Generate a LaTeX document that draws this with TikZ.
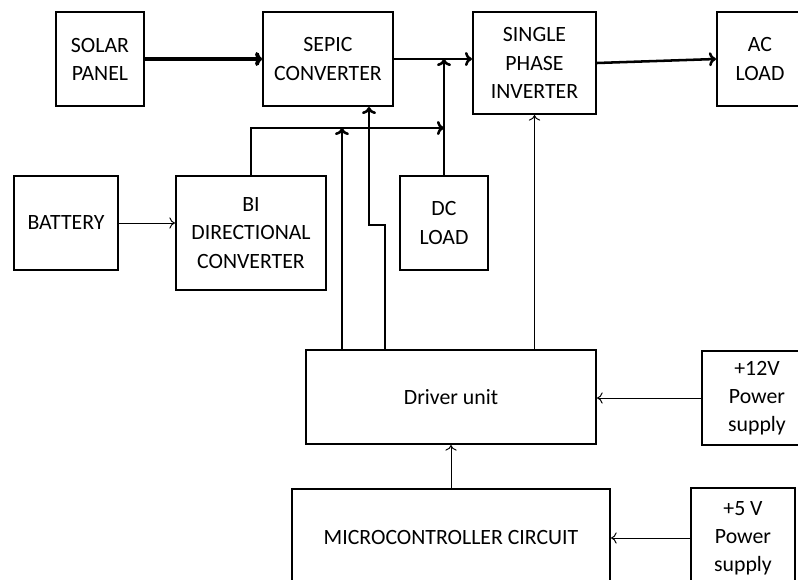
\documentclass[tikz,border=0pt]{standalone}
\usepackage{fontspec}
\setmainfont{Carlito}
\usetikzlibrary{arrows.meta}
\tikzset{
  blk/.style={draw,line width=1.4pt,align=center,inner sep=0pt},
  bus/.style={line width=1.8pt,-{To[length=5pt,width=10pt]}},
  ctl/.style={line width=0.7pt,-{To[length=4pt,width=8pt]}}
}
\begin{document}
\begin{tikzpicture}[x=0.025cm,y=-0.025cm,every node/.style={font=\fontsize{15.5}{20}\selectfont}]
\useasboundingbox (0,0) rectangle (798,580);
\clip (0,0) rectangle (798,580);
\node[blk,minimum width=2.2cm,minimum height=2.35cm] (solar) at (100,59) {SOLAR\\PANEL};
\node[blk,minimum width=3.25cm,minimum height=2.35cm] (sepic) at (328,59) {SEPIC\\CONVERTER};
\node[blk,minimum width=3.075cm,minimum height=2.55cm] (inv) at (534.5,63) {SINGLE\\PHASE\\INVERTER};
\node[blk,minimum width=2.15cm,minimum height=2.35cm] (acload) at (760,59) {AC\\LOAD};
\node[blk,minimum width=2.6cm,minimum height=2.35cm] (batt) at (66,223) {BATTERY};
\node[blk,minimum width=3.75cm,minimum height=2.85cm] (bidir) at (251,233) {BI\\DIRECTIONAL\\CONVERTER};
\node[blk,minimum width=2.2cm,minimum height=2.35cm] (dcload) at (444,223) {DC\\LOAD};
\node[blk,minimum width=7.25cm,minimum height=2.35cm] (driver) at (451,397) {Driver unit};
\node[blk,minimum width=2.75cm,minimum height=2.35cm] (ps12) at (757,398) {+12V\\Power\\supply};
\node[blk,minimum width=7.95cm,minimum height=2.45cm] (mcu) at (451,538) {MICROCONTROLLER CIRCUIT};
\node[blk,minimum width=2.6cm,minimum height=2.5cm] (ps5) at (743,538) {+5 V\\Power\\supply};
\coordinate (dcbus) at (0,128);
\draw[bus,line width=2.8pt] (solar) -- (sepic);
\draw[bus] (sepic.east) -- (sepic.east -| inv.west);
\draw[bus] (inv.east) -- (acload.west);
\draw[ctl] (batt.east) -- (batt.east -| bidir.west);
\draw[bus] (bidir.north) |- (dcload.north |- dcbus);
\draw[bus] (dcload.north) -- (dcload.north |- sepic.east);
\draw[bus] ([shift={(37,0)}]driver.north west) -- ([shift={(37,0)}]driver.north west |- dcbus);
\draw[bus] ([shift={(80,0)}]driver.north west) -- ++(0,-124) -| ([shift={(41,0)}]sepic.south);
\draw[ctl] (inv.south |- driver.north) -- (inv.south);
\draw[ctl] (ps12.west) -- (ps12.west -| driver.east);
\draw[ctl] (ps5.west) -- (ps5.west -| mcu.east);
\draw[ctl] (mcu.north) -- (driver.south);
\end{tikzpicture}
\end{document}
